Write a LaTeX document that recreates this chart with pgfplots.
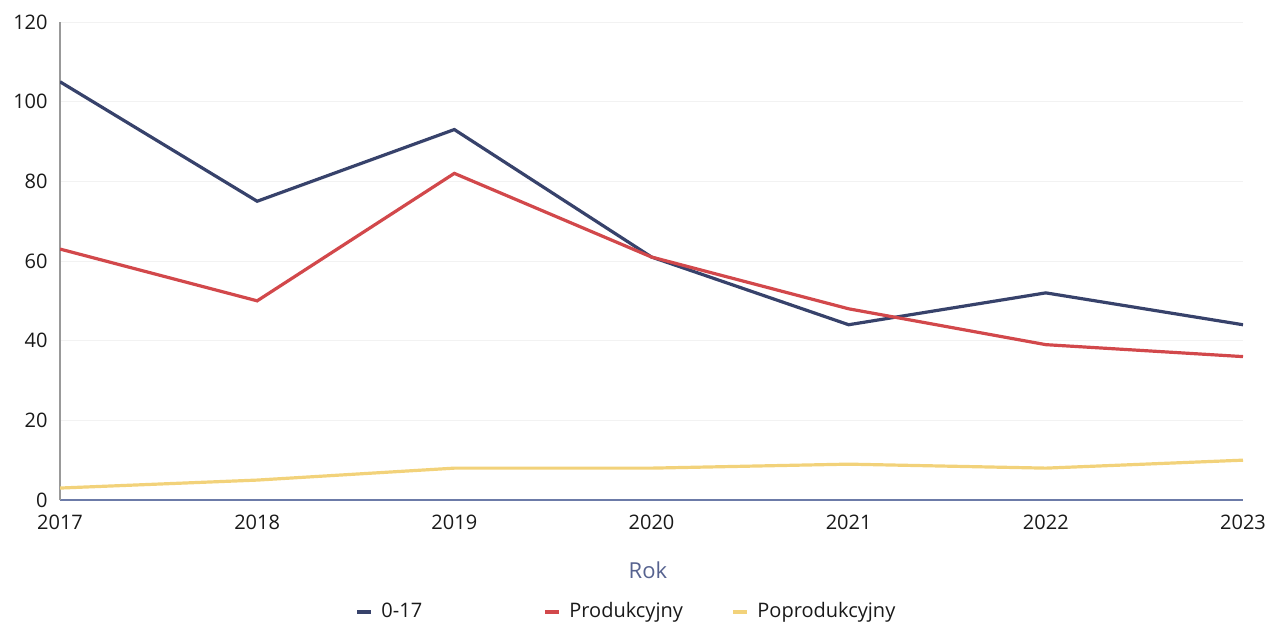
\documentclass[border=0pt]{standalone}
\usepackage{fontspec}
\setmainfont{Open Sans}
\usepackage{pgfplots}
\pgfplotsset{compat=1.18}
\definecolor{navy}{HTML}{37426B}
\definecolor{redl}{HTML}{D2484B}
\definecolor{yell}{HTML}{F2D27A}
\definecolor{roktxt}{HTML}{56628F}
\definecolor{axbl}{HTML}{6C7BA8}
\begin{document}
\begin{tikzpicture}
\path[use as bounding box] (-30pt,-63.5pt) rectangle (606.5pt,250pt);
\begin{axis}[
  scale only axis,
  width=591.5pt, height=239pt,
  at={(0,0)}, anchor=south west,
  xmin=0, xmax=6, ymin=0, ymax=120,
  xtick={0,1,2,3,4,5,6},
  xticklabels={2017,2018,2019,2020,2021,2022,2023},
  ytick={0,20,40,60,80,100,120},
  major tick length=0pt,
  /pgf/number format/assume math mode=true,
  tick label style={font=\fontsize{10}{12}\selectfont, text=black!90},
  yticklabel style={inner sep=0pt, xshift=-6pt},
  xticklabel style={inner sep=0pt, yshift=-7.5pt, anchor=north},
  axis x line*=bottom, axis y line*=left,
  x axis line style={axbl, line width=0.8pt, -},
  y axis line style={black!40, line width=0.6pt, -},
  ymajorgrids, grid style={black!5, line width=0.5pt},
  xlabel={Rok},
  xlabel style={at={(axis description cs:0.497,-0.1464)}, anchor=center, font=\fontsize{11}{13}\selectfont, text=roktxt},
  legend columns=3,
  legend style={at={(axis description cs:0.2494,-0.234)}, anchor=west, draw=none, fill=none, inner sep=0pt,
    font=\fontsize{10}{12}\selectfont, text=black!90,
    nodes={text width=81pt, align=left, inner sep=0pt},
    /tikz/every odd column/.append style={column sep=4pt}},
  legend image code/.code={\draw[#1, line width=2pt] (0pt,0pt) -- (7pt,0pt);},
]
\addplot[navy, line width=1.6pt] coordinates {(0,105) (1,75) (2,93) (3,61) (4,44) (5,52) (6,44)};
\addlegendentry{0-17}
\addplot[redl, line width=1.6pt] coordinates {(0,63) (1,50) (2,82) (3,61) (4,48) (5,39) (6,36)};
\addlegendentry{Produkcyjny}
\addplot[yell, line width=1.6pt] coordinates {(0,3) (1,5) (2,8) (3,8) (4,9) (5,8) (6,10)};
\addlegendentry{Poprodukcyjny}
\end{axis}
\end{tikzpicture}
\end{document}
